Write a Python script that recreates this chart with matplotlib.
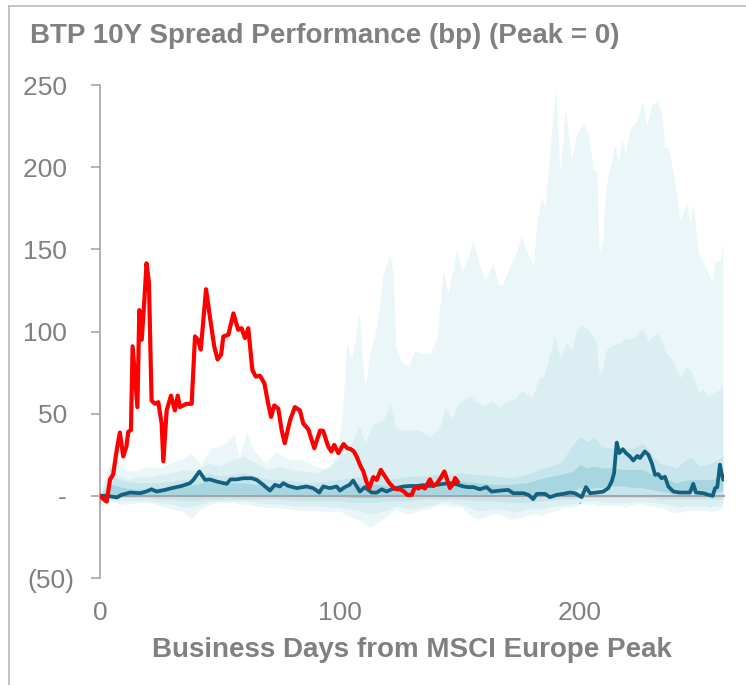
import numpy as np
import matplotlib
matplotlib.use("Agg")
import matplotlib.pyplot as plt
from matplotlib.lines import Line2D

plt.rcParams['font.family'] = ['Liberation Sans', 'DejaVu Sans']

# ---------------- data ----------------
title = "BTP 10Y Spread Performance (bp) (Peak = 0)"
xlabel = "Business Days from MSCI Europe Peak"
x_ticks = [0, 100, 200]
y_ticks = [-50, 0, 50, 100, 150, 200, 250]
y_tick_labels = ["(50)", "- ", "50 ", "100 ", "150 ", "200 ", "250 "]

# current episode (red)
red_days = [0, 1.5, 2.8, 4.2, 5.5, 7, 8.3, 9.7, 11, 11.8, 12.9, 13.6, 15.6, 16.4, 17.4,
            18.5, 19.4, 20.4, 21.5, 22.9, 24.3, 25.7, 26.4, 27.8, 29.6, 31.2, 32.4, 33.3,
            34.7, 36, 38.2, 39.6, 40.8, 42, 44.2, 45.8, 47.6, 49, 50.5, 51.4, 53.5, 55.6,
            57.6, 59, 60.4, 61.8, 63.5, 64.9, 66.7, 68.5, 70.1, 71.3, 72.6, 74.3, 75.7, 77,
            79.2, 81.2, 83.3, 84.7, 86.8, 89.3, 91.7, 93, 95.1, 96.4, 97.6, 99.3, 101.5,
            103, 104.4, 105.8, 106.9, 108.6, 109.7, 111, 112.2, 113.9, 115.3, 117, 118.8,
            120.6, 122.2, 123.6, 125, 126.7, 128, 129.9, 131.2, 132.6, 134, 135.4, 137.5,
            138.9, 140.3, 142, 143.5, 144.4, 145.8, 147, 148, 149]
red_vals = [0, -2, -3.5, 10, 13, 28, 38.5, 24, 30, 39, 40, 91, 54, 113, 95,
            119, 141.5, 130, 58, 56, 57, 44, 21, 52, 61, 52, 61, 54,
            55, 56, 56, 97, 95, 89, 125.7, 109, 91, 83, 86, 97, 98, 111,
            101, 102, 96, 102, 76.6, 72.6, 73, 68.5, 56, 48, 55, 53, 40, 32,
            46, 54, 52, 44, 40.5, 29, 39.7, 39.5, 30, 27, 31, 26, 31.5,
            29, 28.5, 27, 24, 18, 15, 8.7, 4.7, 11.4, 9.7, 15.8, 11.7,
            7.7, 5.3, 4, 4, 2.6, 0.6, 0.6, 5.3, 4.5, 5.7, 4.5, 10,
            6, 7.3, 11, 14.8, 11, 4.7, 7, 10.8, 8.7]

# comparison episode (dark blue)
blue_days = [0, 3, 7, 9, 12.5, 16.7, 19, 21.5, 23.6, 27, 29.9, 34, 37.5, 38.9, 41.4, 43.8,
             45.8, 48.6, 50.7, 52.8, 54.4, 57, 59.7, 63.2, 65.3, 68, 70.8, 72.9, 75, 76.4,
             78.5, 82, 86, 88.8, 91.4, 93, 95.8, 98.6, 100, 102, 104, 105.5, 107, 108.3,
             110.4, 111.8, 113.2, 115.3, 117.4, 119.4, 121.5, 123.6, 126.4, 129.2, 131.9,
             134.7, 137.5, 140.3, 143, 145.8, 148.6, 151.4, 153.5, 155.6, 158.3, 161, 163.2,
             166.7, 170.1, 172.2, 176.4, 178.5, 180.5, 182, 185.4, 187.5, 190.3, 193, 195.8,
             197.9, 200.7, 202.5, 204.2, 206.9, 209.7, 211.8, 213.2, 214.2, 215.3, 216.4,
             217.8, 219.2, 220.8, 222.2, 223.9, 225, 227, 228.5, 229.9, 231.3, 232.6, 234,
             235.4, 236.8, 238.9, 241.7, 245.8, 247.2, 248.3, 251.4, 253.5, 255.3, 256.3,
             257.2, 258.3, 259, 259.7]
blue_vals = [0, 0, -1, 0.6, 2, 1.6, 2.5, 4, 2.6, 3.6, 4.7, 6, 7.7, 9.7, 14.8, 9.7,
             10, 8.7, 8, 7.3, 10, 10, 10.7, 10.7, 9.7, 6.7, 3.2, 6.7, 5.7, 7.7,
             6, 4.7, 5.7, 4.7, 2, 5.7, 4.7, 5.7, 3.2, 5.3, 6.7, 9.3, 5.7, 2.6,
             5.3, 3.6, 2, 2, 4, 2.6, 4, 4.7, 5.7, 6, 6,
             6.5, 6, 6.7, 7.3, 7.7, 7, 5.7, 5.3, 5.3, 4, 5.3, 2.6,
             3.2, 3.6, 1.6, 1.6, 0.6, -2, 1.2, 1.2, -0.8, 0.6, 1.2, 2,
             1.6, -0.8, 5.3, 1.6, 2, 2.6, 4.7, 8.7, 13.8, 32.4, 26,
             28.4, 26, 24, 21.5, 24.3, 23, 27, 25, 20, 12.8, 13.2, 10.7,
             11.6, 5.7, 2.6, 2, 2, 7.3, 2, 1.6, 0.6, 0, 4.7,
             5.3, 19, 13.8, 10]

# historical range bands (outer -> inner)
outer_days = [0, 3, 6, 9, 12, 16, 20, 25, 30, 35, 38, 42, 46, 50, 56, 58, 61, 64, 69, 73,
              79, 85, 90, 95, 98.6, 101, 102.8, 104.9, 108, 110.4, 112.5, 115.3, 118, 120.8,
              122.2, 123.3, 125.7, 128.5, 131.2, 133.3, 137.5, 140.3, 143, 145, 148.6, 150.7,
              152.8, 155.5, 157.6, 160.4, 163.9, 166, 168, 170.8, 172.9, 175.7, 177.8, 180.5,
              182, 184, 185.4, 187.5, 189.9, 191.7, 193.8, 196.5, 198.6, 201.4, 203.5, 205.6,
              207, 208, 209.4, 210.8, 212.5, 214.6, 216, 217.4, 218.8, 220.8, 223.6, 226,
              227.8, 229.9, 231.9, 234, 235.4, 236.8, 238.9, 241.7, 244.4, 245.8, 247.2,
              249.3, 252.8, 254.9, 256.3, 258.3, 259.5]
outer_hi = [0, 14, 24, 18, 15, 16, 18, 17, 20, 23, 26, 19, 29, 30, 37, 22, 39, 28, 20, 27,
            22, 22, 18, 16, 25, 50, 93, 83, 112, 66, 87, 103, 135, 147,
            136, 91, 81, 79, 88, 87, 87, 95, 137, 123, 150, 137,
            143, 155, 143, 131, 142, 128, 129, 140, 146, 158, 149, 140,
            166, 182, 175, 212, 249, 196, 236, 205, 220, 227, 220, 198,
            198, 147, 156, 188, 200, 214, 203, 217, 208, 223, 228, 240,
            225, 238, 240, 233, 212, 212, 196, 168, 178, 166, 178,
            148, 138, 129, 143, 143, 154]
outer_lo = [0, -3, -4, -5, -5, -4, -4, -6, -8, -10, -14, -8, -5, -4, -4, -5, -5, -6, -7, -7,
            -8, -9, -9, -10, -9, -10, -12, -13, -15, -17, -19, -17, -14, -11,
            -9, -8, -10, -11, -10, -9, -8, -6, -5, -6, -7, -7,
            -10, -13, -14, -13, -11, -11, -12, -14, -14, -13, -12, -11,
            -11, -12, -11, -10, -9, -8, -7, -7, -6, -5, -5, -5,
            -6, -6, -6, -6, -6, -6, -6, -6, -7, -6, -5, -5,
            -6, -6, -7, -7, -8, -9, -10, -10, -9, -9, -9,
            -9, -9, -10, -9, -8, -7]

mid_days = [0, 4, 8, 12, 16, 20, 25, 30, 35, 40, 45, 50, 55, 60, 65, 70, 75, 80, 85, 90,
            95.8, 100, 104, 108, 110.4, 113.9, 118, 121, 122.9, 125.7, 129, 133, 137.5,
            141.7, 143.75, 146.5, 149.3, 154.2, 157, 160.4, 163.2, 166, 170, 173, 175.7,
            178, 180, 183.3, 185, 186.8, 189.6, 191.7, 194.4, 196.5, 198.6, 200.7, 202.8,
            204.9, 206.7, 208, 209.7, 211, 213.9, 216.7, 218.75, 221, 223.6, 226, 228.5,
            231.9, 234, 235.4, 238.9, 241.7, 244.4, 246.5, 249.3, 251.4, 253.5, 256.3,
            258.3, 259.5]
mid_hi = [0, 18, 12, 10, 12, 11, 13, 14, 16, 15, 20, 18, 22, 24, 20, 16, 18, 16, 15, 14,
          18, 24, 28, 43, 32, 44, 46, 56, 42, 40, 40, 40, 36,
          42, 54, 47, 56, 61, 57, 55, 58, 54, 58, 59, 64.5,
          62, 60, 72.6, 72, 82.7, 98, 82.7, 94, 88, 101, 104, 102,
          98, 94, 73.6, 78.6, 89, 92, 93, 96, 95, 98, 102, 94,
          99, 95, 88, 81.7, 71.6, 78.6, 75, 63.4, 64.5, 60.4, 63.4,
          64.5, 67.5]
mid_lo = [0, -2, -3, -3, -3, -3, -4, -5, -7, -6, -4, -3, -3, -3, -4, -5, -5, -6, -6, -6,
          -7, -7, -8, -9, -10, -11, -9, -8, -6, -7, -8, -7, -6,
          -4, -3, -4, -5, -7, -9, -9, -8, -8, -9, -10, -9,
          -8, -8, -8, -8, -7, -6, -6, -5, -5, -4, -4, -3,
          -3, -3, -3, -4, -4, -4, -4, -4, -4, -3, -3, -4,
          -4, -5, -5, -6, -7, -6, -6, -6, -6, -7, -6,
          -6, -5]

core_days = [0, 5, 10, 15, 20, 25, 30, 35, 40, 45, 50, 55, 60, 65, 70, 75, 80, 85, 90, 95,
             100, 105, 110, 115, 120, 125, 130, 135, 140, 145, 150, 157, 164, 171, 178, 185,
             192, 197, 200, 203, 206, 209, 213, 218, 222, 226, 229, 233, 240, 246, 250, 255,
             259.5]
core_hi = [0, 12, 9, 8, 8, 8, 9, 10, 11, 14, 12, 13, 14, 12, 10, 10, 9, 8, 8, 9,
           10, 11, 12, 11, 10, 11, 12, 12, 13, 13, 14, 13, 12, 11, 13, 17,
           20, 31, 36, 33, 36, 30, 29, 29, 29, 32, 27, 20, 17, 24, 18, 20, 24]
core_lo = [0, -1, -1, -1, -1, -2, -2, -3, -3, -2, -2, -2, -2, -2, -2, -2, -3, -3, -3, -3,
           -3, -4, -4, -4, -3, -3, -3, -2, -2, -2, -2, -3, -3, -4, -4, -3,
           -2, -2, -1, -1, -1, -1, -1, -1, -1, -1, -1, -2, -2, -2, -2, -2, -2]
inner_hi = [0, 7, 5, 4, 4, 5, 5, 6, 7, 9, 7, 8, 8, 7, 6, 6, 5, 5, 5, 5,
            6, 7, 7, 7, 6, 6, 7, 7, 8, 8, 9, 8, 7, 7, 8, 11,
            13, 15, 19, 17, 18, 17, 17, 16, 16, 16, 14, 12, 8, 10, 10, 10, 12]
inner_lo = [0, 0, 0, 0, 1, 1, 1, 0, 0, 1, 1, 1, 1, 1, 0, 0, 0, 0, 0, 0,
            0, -1, -1, -1, 0, 0, 0, 1, 1, 1, 1, 0, 0, 0, 0, 1,
            2, 3, 5, 4, 5, 5, 6, 6, 5, 5, 4, 3, 1, 2, 2, 2, 3]

# ---------------- style ----------------
GREY = "#808080"
AXGREY = "#a6a6a6"
band_colors = ["#ebf6f8", "#dbeef2", "#c6e5ec", "#a8d6e0"]
RED = "#ff0000"
BLUE = "#14607f"

fig = plt.figure(figsize=(7.46, 6.85), dpi=100)
ax = fig.add_axes([0.134, 0.1562, 0.8365, 0.7197])

ax.fill_between(outer_days, outer_lo, outer_hi, color=band_colors[0], lw=0, zorder=1)
ax.fill_between(mid_days, mid_lo, mid_hi, color=band_colors[1], lw=0, zorder=2)
ax.fill_between(core_days, core_lo, core_hi, color=band_colors[2], lw=0, zorder=3)
ax.fill_between(core_days, inner_lo, inner_hi, color=band_colors[3], lw=0, zorder=4)

ax.plot(blue_days, blue_vals, color=BLUE, lw=2.7, zorder=6, solid_joinstyle='round')
ax.plot(red_days, red_vals, color=RED, lw=3.0, zorder=7, solid_joinstyle='round')

ax.set_xlim(0, 260)
ax.set_ylim(-50, 250)

for s in ["top", "right"]:
    ax.spines[s].set_visible(False)
ax.spines["left"].set_color(AXGREY)
ax.spines["left"].set_linewidth(1.2)
ax.spines["bottom"].set_position(("data", 0))
ax.spines["bottom"].set_color(AXGREY)
ax.spines["bottom"].set_linewidth(1.5)
ax.spines["bottom"].set_zorder(5)

ax.set_xticks(x_ticks)
ax.set_xticklabels([str(v) for v in x_ticks])
ax.set_yticks(y_ticks)
ax.set_yticklabels(y_tick_labels)

ax.tick_params(axis="x", direction="out", length=6, width=1.2, color=AXGREY,
               labelsize=19, labelcolor=GREY, pad=70)
ax.tick_params(axis="y", direction="out", length=6.5, width=1.2, color=AXGREY,
               labelsize=19, labelcolor=GREY, pad=12)

ax.set_xlabel(xlabel, fontsize=20, fontweight="bold", color=GREY, labelpad=8)

fig.text(0.040, 0.948, title, fontsize=20, fontweight="bold", color=GREY,
         ha="left", va="center")

# outer frame (left and top edges visible)
fig.add_artist(Line2D([0.012, 0.012], [0, 0.991], transform=fig.transFigure,
                      color="#bfbfbf", lw=1.3))
fig.add_artist(Line2D([0.012, 1.0], [0.991, 0.991], transform=fig.transFigure,
                      color="#bfbfbf", lw=1.3))

fig.savefig("out.png", dpi=100)
